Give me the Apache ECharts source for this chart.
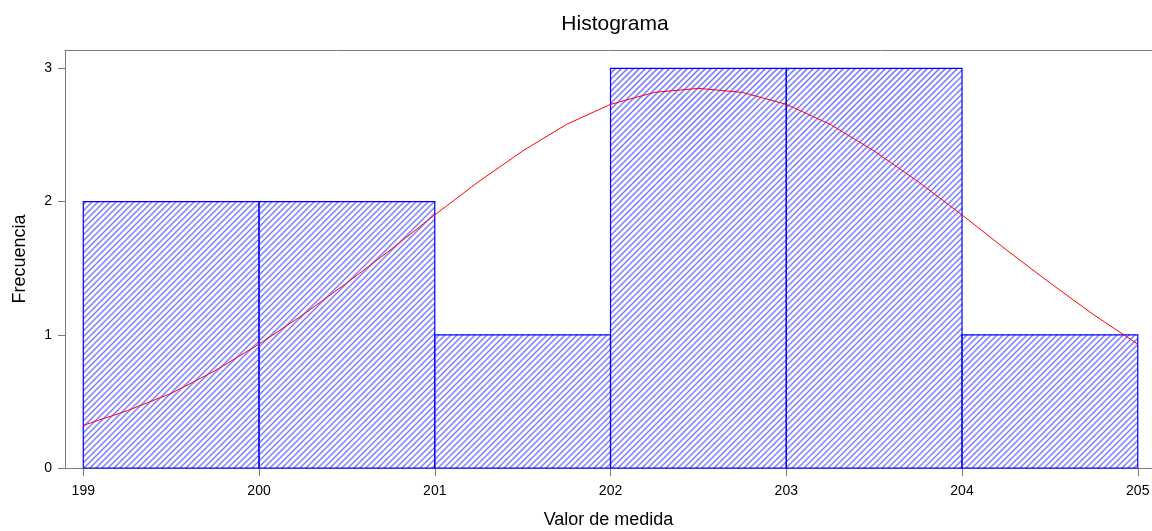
<!DOCTYPE html>
<html>
<head>
<meta charset="utf-8">
<script src="https://cdn.jsdelivr.net/npm/echarts@6/dist/echarts.min.js"></script>
<style>html,body{margin:0;padding:0;background:#fff;}#c{width:1152px;height:531px;}</style>
</head>
<body>
<div id="c"></div>
<script>
// Histogram bins: [lower, upper]
var binLower = [199, 200, 201, 202, 203, 204];
var binUpper = [200, 201, 202, 203, 204, 205];
var binCounts = [2, 2, 1, 3, 3, 1];
// Fitted curve
var curveX = [199, 199.25, 199.5, 199.75, 200, 200.25, 200.5, 200.75, 201, 201.25, 201.5, 201.75, 202, 202.25, 202.5,
              202.75, 203, 203.25, 203.5, 203.75, 204, 204.25, 204.5, 204.75, 205];
var curveY = [0.32, 0.43, 0.56, 0.73, 0.93, 1.15, 1.39, 1.64, 1.90, 2.15, 2.38, 2.58, 2.73, 2.82, 2.85,
              2.82, 2.73, 2.58, 2.38, 2.15, 1.90, 1.64, 1.39, 1.15, 0.93];
var xTicks = [199, 200, 201, 202, 203, 204, 205];
var yTicks = [0, 1, 2, 3];

var barData = binLower.map(function (lo, k) { return [lo, binUpper[k], binCounts[k]]; });
var curveData = curveX.map(function (x, k) { return [x, curveY[k]]; });

// diagonal "/" hatch segments inside a pixel rectangle
function hatchLines(x0, y0, x1, y1, step, color, w) {
  var out = [];
  var cStart = Math.ceil((x0 + y0) / step) * step;
  for (var c = cStart; c <= x1 + y1; c += step) {
    var xa = Math.max(x0, c - y1), xb = Math.min(x1, c - y0);
    if (xb <= xa) continue;
    out.push({
      type: 'line',
      silent: true,
      shape: { x1: xa, y1: c - xa, x2: xb, y2: c - xb },
      style: { stroke: color, lineWidth: w }
    });
  }
  return out;
}

var font = 'Liberation Sans, Arial, sans-serif';
var axisGray = '#7a7a7a';
var chart = echarts.init(document.getElementById('c'));
chart.setOption({
  animation: false,
  title: {
    text: 'Histograma', left: 610, top: 9, textAlign: 'center',
    textStyle: { fontFamily: font, fontSize: 21, fontWeight: 'normal', color: '#000' }
  },
  grid: { left: 65, right: 0, top: 50, bottom: 63, containLabel: false, outerBoundsMode: 'none' },
  xAxis: [{
    type: 'value', min: 198.896, max: 205.081, position: 'bottom',
    name: 'Valor de medida', nameLocation: 'middle', nameGap: 43,
    nameTextStyle: { fontFamily: font, fontSize: 18, color: '#000' },
    splitLine: { show: false },
    axisLine: { show: true, onZero: false, lineStyle: { color: axisGray, width: 1 } },
    axisTick: { show: true, length: 8, customValues: xTicks, lineStyle: { color: axisGray } },
    axisLabel: { customValues: xTicks, margin: 16, fontFamily: font, fontSize: 14, color: '#000' }
  }, {
    type: 'value', min: 198.896, max: 205.081, position: 'top',
    splitLine: { show: false },
    axisLine: { show: true, onZero: false, lineStyle: { color: axisGray, width: 1 } },
    axisTick: { show: false }, axisLabel: { show: false }
  }],
  yAxis: {
    type: 'value', min: 0, max: 3.138,
    name: 'Frecuencia', nameLocation: 'middle', nameGap: 36,
    nameTextStyle: { fontFamily: font, fontSize: 18, color: '#000' },
    splitLine: { show: false },
    axisLine: { show: true, lineStyle: { color: axisGray, width: 1 } },
    axisTick: { show: true, length: 7, customValues: yTicks, lineStyle: { color: axisGray } },
    axisLabel: { customValues: yTicks, margin: 13, fontFamily: font, fontSize: 14, color: '#000' }
  },
  series: [{
    type: 'custom',
    data: barData,
    encode: { x: [0, 1], y: 2 },
    renderItem: function (params, api) {
      var p0 = api.coord([api.value(0), 0]);
      var p1 = api.coord([api.value(1), api.value(2)]);
      var x0 = p0[0], x1 = p1[0], y0 = p1[1], y1 = p0[1];
      var kids = hatchLines(x0, y0, x1, y1, 6, '#7c7cff', 1.5);
      kids.push({
        type: 'rect',
        shape: { x: x0, y: y0, width: x1 - x0, height: y1 - y0 },
        style: { fill: 'none', stroke: '#0000ff', lineWidth: 1.2 }
      });
      return { type: 'group', children: kids };
    },
    z: 2
  }, {
    type: 'line',
    data: curveData,
    showSymbol: false,
    smooth: false,
    lineStyle: { color: '#ff0000', width: 1 },
    z: 3
  }]
});
</script>
</body>
</html>
